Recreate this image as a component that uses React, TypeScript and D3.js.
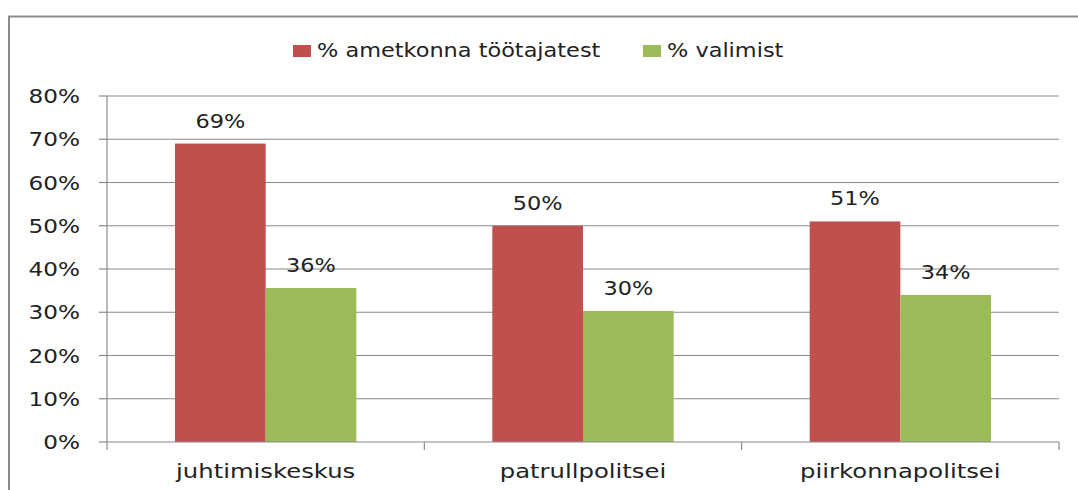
import React from "react";
import * as d3 from "d3";

const categories = ["juhtimiskeskus", "patrullpolitsei", "piirkonnapolitsei"];
const seriesNames = ["% ametkonna töötajatest", "% valimist"];
const staffShare = [0.69, 0.50, 0.51];
const sampleShare = [0.356, 0.303, 0.34];
const yTicks = [0, 0.1, 0.2, 0.3, 0.4, 0.5, 0.6, 0.7, 0.8];
const colors = ["#C0504D", "#9BBB59"];

const W = 1078;
const H = 490;
const plot = { left: 107, right: 1059, top: 96, bottom: 442 };
const SX = 1.18;
const FONT = "'DejaVu Sans', Verdana, sans-serif";
const FS = 19;
const TEXT = "#222222";
const GRID = "#8a8a8a";

function T({ x, y, anchor = "middle", sx = SX, children }: any) {
  return (
    <text
      transform={`translate(${x},${y}) scale(${sx},1)`}
      textAnchor={anchor}
      fontFamily={FONT}
      fontSize={FS}
      fill={TEXT}
    >
      {children}
    </text>
  );
}

export default function App() {
  const y = d3.scaleLinear().domain([0, 0.8]).range([plot.bottom, plot.top]);
  const x = d3.scaleBand<string>().domain(categories).range([plot.left, plot.right]).padding(0);
  const barW = x.bandwidth() / 3.5;
  const xs = d3.scaleBand<string>().domain(seriesNames).range([0, barW * 2]).padding(0);
  const values = [staffShare, sampleShare];
  const fmt = d3.format(".0%");

  return (
    <svg width={W} height={H} style={{ position: "absolute", left: 0, top: 0, background: "#fff" }}>
      {/* outer frame */}
      <path d={`M9,${H + 2} L9,16.5 L${W + 2},16.5`} fill="none" stroke="#8c8c8c" strokeWidth={2} />

      {/* legend */}
      {seriesNames.map((s, i) => {
        const lx = [293, 643][i];
        return (
          <g key={s}>
            <rect x={lx} y={45} width={18} height={12} fill={colors[i]} />
            <T x={lx + 24} y={57} anchor="start">{s}</T>
          </g>
        );
      })}

      {/* gridlines and y ticks */}
      {yTicks.map((t) => (
        <g key={t}>
          {t > 0 && (
            <line x1={plot.left} x2={plot.right} y1={y(t)} y2={y(t)} stroke={GRID} strokeWidth={1.2} />
          )}
          <line x1={plot.left - 8} x2={plot.left} y1={y(t)} y2={y(t)} stroke={GRID} strokeWidth={1.2} />
          <T x={80} y={y(t) + 7} anchor="end" sx={1.22}>{fmt(t)}</T>
        </g>
      ))}

      {/* bars */}
      {categories.map((c, ci) => {
        const x0 = (x(c) as number) + (x.bandwidth() - barW * 2) / 2;
        return (
          <g key={c}>
            {seriesNames.map((s, si) => {
              const v = values[si][ci];
              const bx = x0 + (xs(s) as number);
              return (
                <g key={s}>
                  <rect x={bx} y={y(v)} width={xs.bandwidth()} height={y(0) - y(v)} fill={colors[si]} />
                  <T x={bx + xs.bandwidth() / 2} y={y(v) - 16}>{fmt(v)}</T>
                </g>
              );
            })}
            <T x={(x(c) as number) + x.bandwidth() / 2} y={478} sx={1.28}>{c}</T>
          </g>
        );
      })}

      {/* axes */}
      <line x1={plot.left} x2={plot.left} y1={plot.top} y2={plot.bottom + 8} stroke={GRID} strokeWidth={1.2} />
      <line x1={plot.left} x2={plot.right} y1={plot.bottom} y2={plot.bottom} stroke={GRID} strokeWidth={1.2} />
      {categories.map((c) => (
        <line
          key={c}
          x1={(x(c) as number) + x.bandwidth()}
          x2={(x(c) as number) + x.bandwidth()}
          y1={plot.bottom}
          y2={plot.bottom + 8}
          stroke={GRID}
          strokeWidth={1.2}
        />
      ))}
    </svg>
  );
}
